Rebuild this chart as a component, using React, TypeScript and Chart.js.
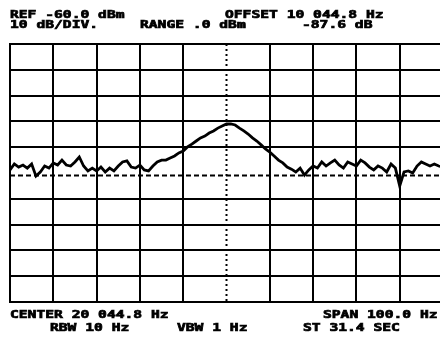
import React, { useEffect, useRef } from "react";
import { Chart, registerables } from "chart.js";

Chart.register(...registerables);

// Frequency offset from centre (Hz), span 100 Hz
const FREQ_OFFSET_HZ = [
  -50, -49, -48, -47, -46, -45, -44, -43, -42, -41,
  -40, -39, -38, -37, -36, -35, -34, -33, -32, -31,
  -30, -29, -28, -27, -26, -25, -24, -23, -22, -21,
  -20, -19, -18, -17, -16, -15, -14, -13, -12, -11,
  -10, -9, -8, -7, -6, -5, -4, -3, -2, -1,
  0, 1, 2, 3, 4, 5, 6, 7, 8, 9,
  10, 11, 12, 13, 14, 15, 16, 17, 18, 19,
  20, 21, 22, 23, 24, 25, 26, 27, 28, 29,
  30, 31, 32, 33, 34, 35, 36, 37, 38, 39,
  40, 41, 42, 43, 44, 45, 46, 47, 48, 49, 50,
];

// Trace level (dBm)
const TRACE_DBM = [
  -108.8, -106.5, -107.7, -106.9, -108.1, -106.5, -111.2, -109.6, -107.3, -108.1,
  -106.1, -106.9, -105.0, -106.9, -107.3, -105.7, -103.8, -107.3, -109.2, -108.1,
  -109.2, -107.7, -109.6, -108.1, -109.2, -107.3, -105.7, -105.3, -107.7, -108.1,
  -106.9, -108.8, -109.2, -107.3, -105.7, -105.0, -105.0, -104.2, -103.4, -102.2,
  -101.5, -99.9, -98.8, -97.6, -96.4, -95.7, -94.5, -93.7, -92.6, -91.8,
  -91.0, -91.0, -91.4, -92.6, -93.7, -94.9, -96.4, -97.6, -99.1, -100.7,
  -101.9, -103.4, -105.0, -106.1, -107.7, -108.5, -109.6, -108.1, -110.8, -108.8,
  -107.3, -108.1, -105.7, -107.3, -106.1, -105.0, -106.9, -108.1, -105.7, -106.5,
  -107.3, -105.0, -106.1, -107.7, -108.8, -107.3, -108.1, -109.6, -106.5, -108.1,
  -115.0, -109.6, -109.2, -110.0, -107.3, -105.7, -106.5, -107.3, -106.5, -107.3, -107.7,
];

const REF_LEVEL_DBM = -60;
const BOTTOM_LEVEL_DBM = -160;
const DB_PER_DIV = 10;
const HZ_PER_DIV = 10;
const DISPLAY_LINE_DBM = -111;
const SPAN_EDGES_HZ = [-50, 50];

const HEADER_TEXTS = ["REF -60.0 dBm", "10 dB/DIV.", "RANGE .0 dBm", "OFFSET 10 044.8 Hz", "-87.6 dB"];
const FOOTER_TEXTS = ["CENTER 20 044.8 Hz", "RBW 10 Hz", "VBW 1 Hz", "SPAN 100.0 Hz", "ST 31.4 SEC"];

const HEADER_POS = [
  [10, 18],
  [10, 28],
  [140, 28],
  [225, 18],
  [302, 28],
];
const FOOTER_POS = [
  [10, 318],
  [50, 331],
  [177, 331],
  [323, 318],
  [303, 331],
];

const textPlugin = {
  id: "analyzerText",
  afterDraw(chart: any) {
    const ctx = chart.ctx as CanvasRenderingContext2D;
    ctx.save();
    ctx.fillStyle = "#000";
    ctx.strokeStyle = "#000";
    ctx.lineWidth = 0.7;
    ctx.font = "bold 11px 'DejaVu Sans Mono'";
    ctx.textBaseline = "alphabetic";
    const draw = (texts: string[], pos: number[][]) => {
      texts.forEach((t, i) => {
        ctx.save();
        ctx.translate(pos[i][0], pos[i][1]);
        ctx.scale(1.33, 1);
        ctx.fillText(t, 0, 0);
        ctx.strokeText(t, 0, 0);
        ctx.restore();
      });
    };
    draw(HEADER_TEXTS, HEADER_POS);
    draw(FOOTER_TEXTS, FOOTER_POS);
    ctx.restore();
  },
};

export default function App() {
  const ref = useRef<HTMLCanvasElement | null>(null);

  useEffect(() => {
    if (!ref.current) return;
    const chart = new Chart(ref.current, {
      type: "line",
      data: {
        datasets: [
          {
            data: FREQ_OFFSET_HZ.map((f, i) => ({ x: f, y: TRACE_DBM[i] })),
            borderColor: "#000",
            borderWidth: 2.8,
            pointRadius: 0,
            tension: 0,
          },
          {
            data: SPAN_EDGES_HZ.map((f) => ({ x: f, y: DISPLAY_LINE_DBM })),
            borderColor: "#000",
            borderWidth: 2,
            borderDash: [5, 3],
            pointRadius: 0,
          },
          {
            data: [
              { x: 0, y: REF_LEVEL_DBM },
              { x: 0, y: BOTTOM_LEVEL_DBM },
            ],
            borderColor: "#000",
            borderWidth: 2,
            borderDash: [2, 3],
            pointRadius: 0,
          },
        ],
      },
      options: {
        responsive: false,
        animation: false,
        layout: { padding: { left: 10, top: 44, right: 7, bottom: 35 } },
        plugins: { legend: { display: false }, tooltip: { enabled: false } },
        scales: {
          x: {
            type: "linear",
            min: SPAN_EDGES_HZ[0],
            max: SPAN_EDGES_HZ[1],
            ticks: { display: false, stepSize: HZ_PER_DIV },
            grid: {
              drawTicks: false,
              lineWidth: 2,
              color: (c: any) => (c.tick && c.tick.value === 0 ? "rgba(0,0,0,0)" : "#000"),
            },
            border: { color: "#000", width: 2 },
          },
          y: {
            min: BOTTOM_LEVEL_DBM,
            max: REF_LEVEL_DBM,
            ticks: { display: false, stepSize: DB_PER_DIV },
            grid: {
              drawTicks: false,
              lineWidth: 2,
              color: (c: any) => (c.tick && c.tick.value === -110 ? "rgba(0,0,0,0)" : "#000"),
            },
            border: { color: "#000", width: 2 },
          },
        },
      },
      plugins: [textPlugin],
    });
    return () => chart.destroy();
  }, []);

  return (
    <div
      style={{
        position: "fixed",
        left: 0,
        top: 0,
        width: 440,
        height: 337,
        overflow: "hidden",
        background: "#fff",
      }}
    >
      <canvas ref={ref} width={450} height={337} style={{ display: "block", width: 450, height: 337 }} />
    </div>
  );
}
